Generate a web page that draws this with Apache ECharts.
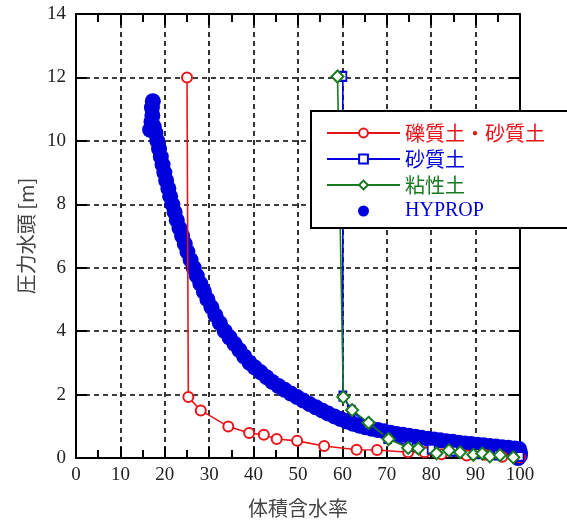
<!DOCTYPE html>
<html><head><meta charset="utf-8">
<script src="https://cdn.jsdelivr.net/npm/echarts@6/dist/echarts.min.js"></script>
<style>html,body{margin:0;padding:0;background:#fff}#c{width:567px;height:526px}</style>
</head><body><div id="c"></div>
<script>
// Series names
const seriesNames = ['礫質土・砂質土', '砂質土', '粘性土', 'HYPROP'];
// 礫質土・砂質土 (red): [体積含水率, 圧力水頭]
const gravelSand = [[25,12],[25.3,1.92],[28.1,1.5],[34.3,0.99],[39,0.79],[42.3,0.73],[45.2,0.6],[49.8,0.54],[55.9,0.38],[63.2,0.26],[67.8,0.25],[74.8,0.18],[78.5,0.18],[82.3,0.12],[88,0.08],[92,0.1],[96,0.04],[100,0.02]];
// 砂質土 (blue)
const sandy = [[60.1,12.03],[60.1,1.95],[62,1.5],[65.8,1.05],[70.2,0.62],[75,0.38],[80,0.28],[85,0.22],[90,0.14],[95,0.1],[100,0.05]];
// 粘性土 (green)
const clayey = [[58.9,12.03],[60.2,1.92],[62.2,1.51],[65.9,1.11],[70.4,0.6],[74.8,0.32],[77.1,0.3],[81.2,0.15],[84,0.24],[86.5,0.18],[89.5,0.1],[91.5,0.14],[93.2,0.05],[95.5,0.09],[98.5,0.02]];
// HYPROP measured points
const hyprop = [[17.3,11.25],[17.1,11.05],[17.2,10.8],[17.0,10.6],[16.7,10.35],[17.5,10.45],[17.9,10.25],[18.3,10.0],[18.7,9.75],[19.1,9.5],[19.5,9.25],[19.9,9.0],[20.3,8.75],[20.8,8.5],[21.2,8.25],[21.7,8.0],[22.2,7.75],[22.7,7.5],[23.3,7.25],[23.9,7.0],[24.5,6.75],[25.1,6.5],[25.8,6.25],[26.5,6.0],[27.2,5.75],[28.0,5.5],[28.8,5.25],[29.6,5.0],[30.5,4.75],[31.4,4.5],[32.4,4.25],[33.5,4.0],[34.6,3.8],[35.7,3.6],[36.8,3.4],[37.9,3.2],[39.1,3.0],[40.3,2.85],[41.6,2.7],[42.9,2.55],[44.2,2.4],[45.6,2.27],[47.0,2.15],[48.4,2.03],[49.8,1.92],[51.2,1.81],[52.6,1.7],[54.0,1.6],[55.4,1.5],[56.8,1.4],[58.2,1.31],[59.6,1.23],[61.0,1.15],[62.4,1.08],[63.8,1.02],[65.2,0.97],[66.6,0.92],[68.0,0.88],[69.4,0.84],[70.8,0.8],[72.2,0.76],[73.6,0.73],[75.0,0.7],[76.4,0.67],[77.8,0.64],[79.2,0.61],[80.6,0.58],[82.0,0.56],[83.4,0.53],[84.8,0.51],[86.2,0.48],[87.6,0.46],[89.0,0.44],[90.4,0.42],[91.8,0.4],[93.2,0.38],[94.6,0.36],[96.0,0.34],[97.4,0.32],[98.8,0.3],[99.8,0.28],[100,0.18],[100,0.08],[99.6,0.0]];

const colRed = '#e8141a', colBlue = '#0000e0', colGreen = '#1a7a22', colHy = '#0000dd';
const serif = "'Liberation Serif', 'DejaVu Serif', serif";
const cjk = "'Noto Sans CJK JP', sans-serif";

const chart = echarts.init(document.getElementById('c'));
const axisLine = {onZero:false, lineStyle:{color:'#000', width:2}};
const tick = {show:true, inside:true, length:11, lineStyle:{color:'#000', width:2}};
const minor = {show:true, splitNumber:2, length:8, lineStyle:{color:'#000', width:2}};
const split = {show:true, lineStyle:{color:'#000', width:1.6, type:[5,4]}};
const lbl = {fontFamily:serif, fontSize:19, color:'#222'};

chart.setOption({
  animation:false,
  backgroundColor:'#fff',
  grid:{left:76, right:47, top:14, bottom:68},
  legend:{
    left:311, top:111, orient:'vertical',
    backgroundColor:'#fff', borderColor:'#000', borderWidth:2,
    padding:[12, 70, 7, 15],
    itemWidth:73, itemHeight:11, itemGap:6,
    textStyle:{fontFamily:serif + ", " + cjk, fontSize:20},
    data:[
      {name:seriesNames[0], textStyle:{color:colRed, fontFamily:cjk}},
      {name:seriesNames[1], textStyle:{color:colBlue, fontFamily:cjk}},
      {name:seriesNames[2], textStyle:{color:colGreen, fontFamily:cjk}},
      {name:seriesNames[3], textStyle:{color:colHy, fontFamily:serif}}
    ]
  },
  xAxis:[
    {type:'value', min:0, max:100, interval:10, position:'bottom',
     axisLine, axisTick:tick, minorTick:minor, splitLine:split,
     axisLabel:Object.assign({margin:8}, lbl),
     name:'体積含水率', nameLocation:'middle', nameGap:40,
     nameTextStyle:{fontFamily:cjk, fontSize:20, color:'#444'}},
    {type:'value', min:0, max:100, interval:10, position:'top',
     axisLine, axisTick:tick, minorTick:minor, splitLine:{show:false}, axisLabel:{show:false}}
  ],
  yAxis:[
    {type:'value', min:0, max:14, interval:2, position:'left',
     axisLine, axisTick:tick, splitLine:split,
     axisLabel:Object.assign({margin:10}, lbl),
     name:'圧力水頭 [m]', nameLocation:'middle', nameGap:38,
     nameTextStyle:{fontFamily:cjk, fontSize:20, color:'#444'}},
    {type:'value', min:0, max:14, interval:2, position:'right',
     axisLine, axisTick:tick, splitLine:{show:false}, axisLabel:{show:false}}
  ],
  series:[
    {name:seriesNames[3], type:'scatter', data:hyprop, symbol:'circle', symbolSize:16,
     itemStyle:{color:colHy, opacity:1}, z:2},
    {name:seriesNames[0], type:'line', data:gravelSand, symbol:'emptyCircle', symbolSize:10,
     showAllSymbol:true, itemStyle:{color:colRed, borderWidth:2}, lineStyle:{color:colRed, width:1.6}, z:3},
    {name:seriesNames[1], type:'line', data:sandy, symbol:'emptyRect', symbolSize:[7,9],
     showAllSymbol:true, itemStyle:{color:colBlue, borderWidth:2}, lineStyle:{color:colBlue, width:1.6}, z:3},
    {name:seriesNames[2], type:'line', data:clayey, symbol:'emptyDiamond', symbolSize:12,
     showAllSymbol:true, itemStyle:{color:colGreen, borderWidth:2}, lineStyle:{color:colGreen, width:1.6}, z:3}
  ]
});
</script></body></html>
